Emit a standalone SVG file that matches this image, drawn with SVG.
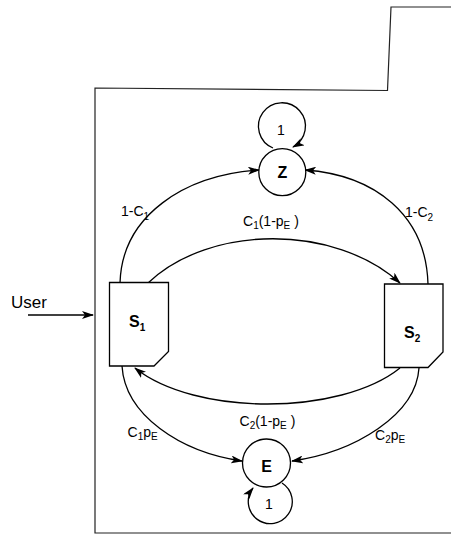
<svg xmlns="http://www.w3.org/2000/svg" width="451" height="536" viewBox="0 0 451 536">
<defs>
<marker id="ah" viewBox="0 0 12 8" refX="11" refY="4" markerWidth="12" markerHeight="8" markerUnits="userSpaceOnUse" orient="auto">
<path d="M0,0 L12,4 L0,8 L3,4 z" fill="#000"/>
</marker>
</defs>
<style>
.ln{fill:none;stroke:#000;stroke-width:1.3}
.fr{fill:none;stroke:#222;stroke-width:1.2}
.nd{fill:#fff;stroke:#000;stroke-width:1.3}
.lb{font-family:"Liberation Sans",Arial,sans-serif;font-size:14px;fill:#000}
.bl{font-family:"Liberation Sans",Arial,sans-serif;font-size:16px;font-weight:bold;fill:#000}
.sb{font-size:10px}
</style>
<rect width="451" height="536" fill="#fff"/>
<g id="frame">
<path class="fr" d="M451,7 L391,7 L387.5,90.5 L95,88 L95,533 L451,533"/>
</g>
<g id="connectors">
<path class="ln" d="M28,315 L93,315" marker-end="url(#ah)"/>
<path class="ln" d="M120,283 C122,215 185,175 259,170" marker-end="url(#ah)"/>
<path class="ln" d="M428,284 C426,215 375,175 305,170" marker-end="url(#ah)"/>
<path class="ln" d="M148,283 C210,224 335,224 400,283" marker-end="url(#ah)"/>
<path class="ln" d="M400,368 C340,416 195,416 135,368" marker-end="url(#ah)"/>
<path class="ln" d="M122,366 C125,415 180,452 242,461" marker-end="url(#ah)"/>
<path class="ln" d="M419,368 C416,415 355,452 292,461" marker-end="url(#ah)"/>
<path class="ln" d="M273,148 A23.5,23.5 0 1 1 293,147" marker-end="url(#ah)"/>
<path class="ln" d="M282,483 A22,22 0 1 1 253,488" marker-end="url(#ah)"/>
</g>
<g id="user">
<text class="lb" x="11" y="307.5" style="font-size:17px">User</text>
</g>
<g id="S1">
<path class="nd" d="M109.5,282.5 L168.5,282.5 L168.5,351.5 L154,366 L109.5,366 Z"/>
<text class="bl" x="129" y="327">S<tspan class="sb" dy="4">1</tspan></text>
</g>
<g id="S2">
<path class="nd" d="M384.5,284 L443,284 L443,352 L428,367.5 L384.5,367.5 Z"/>
<text class="bl" x="404" y="338">S<tspan class="sb" dy="4">2</tspan></text>
</g>
<g id="Z">
<circle class="nd" cx="282.3" cy="172.2" r="23.5"/>
<text class="bl" x="282.3" y="178" text-anchor="middle">Z</text>
<text class="lb" x="281" y="135" text-anchor="middle">1</text>
</g>
<g id="E">
<circle class="nd" cx="266.5" cy="463" r="24"/>
<text class="bl" x="266.5" y="472" text-anchor="middle">E</text>
<text class="lb" x="269" y="509" text-anchor="middle">1</text>
</g>
<g id="labels">
<text class="lb" x="121" y="216">1-C<tspan class="sb" dy="4">1</tspan></text>
<text class="lb" x="405" y="216.5">1-C<tspan class="sb" dy="4">2</tspan></text>
<text class="lb" x="243" y="226">C<tspan class="sb" dy="3">1</tspan><tspan dy="-3">(1-p</tspan><tspan class="sb" dy="3">E</tspan><tspan dy="-3"> )</tspan></text>
<text class="lb" x="239.5" y="425.5">C<tspan class="sb" dy="3">2</tspan><tspan dy="-3">(1-p</tspan><tspan class="sb" dy="3">E</tspan><tspan dy="-3"> )</tspan></text>
<text class="lb" x="127.5" y="436.5">C<tspan class="sb" dy="3">1</tspan><tspan dy="-3">p</tspan><tspan class="sb" dy="3">E</tspan></text>
<text class="lb" x="375" y="440">C<tspan class="sb" dy="3">2</tspan><tspan dy="-3">p</tspan><tspan class="sb" dy="3">E</tspan></text>
</g>
</svg>
